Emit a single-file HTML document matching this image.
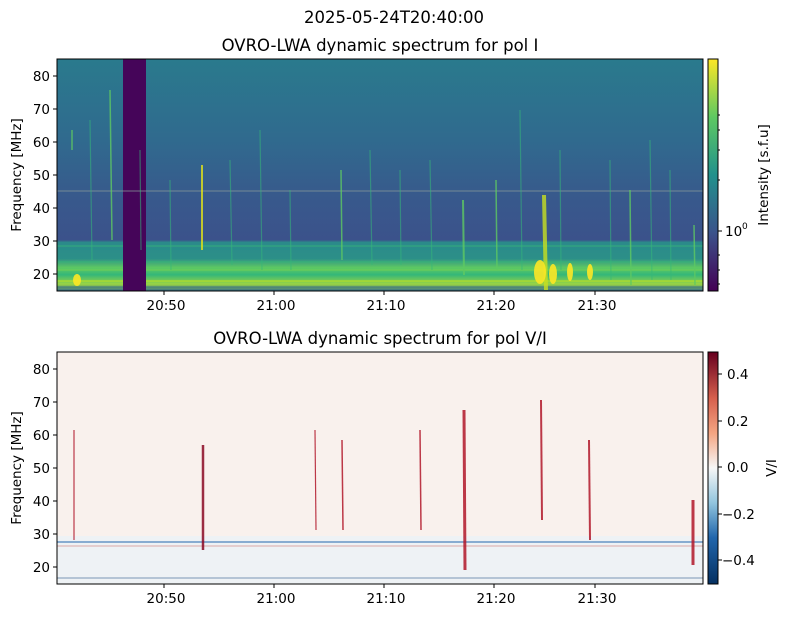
<!DOCTYPE html>
<html><head><meta charset="utf-8"><style>
body{margin:0;background:#fff;font-family:"Liberation Sans","DejaVu Sans",sans-serif}
svg text{font-family:"DejaVu Sans","Liberation Sans",sans-serif;fill:#000}
</style></head><body>
<svg width="789" height="617" viewBox="0 0 789 617" xmlns="http://www.w3.org/2000/svg">
<defs>
<linearGradient id="topbg" x1="0" y1="0" x2="0" y2="1">
<stop offset="0" stop-color="#2a7a8d"/>
<stop offset="0.35" stop-color="#306a8e"/>
<stop offset="0.6" stop-color="#38598c"/>
<stop offset="0.78" stop-color="#3b528b"/>
<stop offset="0.79" stop-color="#2b8a8a"/>
<stop offset="0.86" stop-color="#2c8f88"/>
<stop offset="0.9" stop-color="#5ec962"/>
<stop offset="0.93" stop-color="#35b779"/>
<stop offset="0.97" stop-color="#9ad543"/>
<stop offset="1" stop-color="#31688e"/>
</linearGradient>
<linearGradient id="vir" x1="0" y1="1" x2="0" y2="0">
<stop offset="0" stop-color="#440154"/><stop offset="0.25" stop-color="#3b528b"/>
<stop offset="0.5" stop-color="#21918c"/><stop offset="0.75" stop-color="#5ec962"/>
<stop offset="1" stop-color="#fde725"/></linearGradient>
<linearGradient id="rdbu" x1="0" y1="1" x2="0" y2="0">
<stop offset="0" stop-color="#053061"/><stop offset="0.2" stop-color="#2166ac"/>
<stop offset="0.35" stop-color="#92c5de"/><stop offset="0.5" stop-color="#f7f7f7"/>
<stop offset="0.65" stop-color="#f4a582"/><stop offset="0.8" stop-color="#d6604d"/>
<stop offset="1" stop-color="#67001f"/></linearGradient>
</defs>
<text x="394" y="23" font-size="16.5" text-anchor="middle">2025-05-24T20:40:00</text>
<text x="380" y="51" font-size="16.5" text-anchor="middle">OVRO-LWA dynamic spectrum for pol I</text>
<text x="380" y="344" font-size="16.5" text-anchor="middle">OVRO-LWA dynamic spectrum for pol V/I</text>
<!-- top panel -->
<rect x="57" y="59" width="646" height="232" fill="url(#topbg)"/>
<g stroke="#35b779" stroke-width="1" opacity="0.8">
<line x1="57" y1="246" x2="703" y2="246"/><line x1="57" y1="249" x2="703" y2="249" stroke="#21918c"/>
<line x1="57" y1="262" x2="703" y2="262"/><line x1="57" y1="270" x2="703" y2="270" stroke="#7ad151"/>
<line x1="57" y1="281" x2="703" y2="281" stroke="#b5de2b" stroke-width="1.5"/>
<line x1="57" y1="287" x2="703" y2="287" stroke="#31688e"/>
</g>
<rect x="123" y="59" width="23" height="232" fill="#450559"/>
<line x1="57" y1="191" x2="703" y2="191" stroke="#8a9a9a" stroke-width="0.7"/>
<g stroke="#35b779" stroke-width="1.2" opacity="0.55">
<line x1="90" y1="120" x2="92" y2="260"/><line x1="140" y1="150" x2="141" y2="250"/><line x1="170" y1="180" x2="171" y2="270"/>
<line x1="230" y1="160" x2="232" y2="265"/><line x1="260" y1="130" x2="262" y2="270"/><line x1="290" y1="190" x2="291" y2="270"/>
<line x1="370" y1="150" x2="372" y2="265"/><line x1="400" y1="170" x2="401" y2="265"/><line x1="430" y1="160" x2="432" y2="270"/>
<line x1="520" y1="110" x2="522" y2="270"/><line x1="560" y1="150" x2="561" y2="270"/><line x1="610" y1="160" x2="611" y2="280"/>
<line x1="650" y1="140" x2="652" y2="280"/><line x1="670" y1="170" x2="671" y2="280"/>
</g>
<g stroke="#5ec962" stroke-width="1.5" opacity="0.8">
<line x1="202" y1="165" x2="202" y2="250" stroke="#e3e418" stroke-width="2"/>
<line x1="544" y1="195" x2="546" y2="290" stroke="#c8e020" stroke-width="4"/>
<line x1="463" y1="200" x2="464" y2="275" stroke-width="2"/>
<line x1="496" y1="180" x2="497" y2="270"/>
<line x1="341" y1="170" x2="342" y2="260"/>
<line x1="110" y1="90" x2="112" y2="240"/>
<line x1="630" y1="190" x2="631" y2="285"/>
<line x1="694" y1="225" x2="695" y2="285"/>
<line x1="72" y1="130" x2="72" y2="150"/>
</g>
<g fill="#fde725" opacity="0.9">
<ellipse cx="77" cy="280" rx="4" ry="6"/>
<ellipse cx="540" cy="272" rx="6" ry="12"/>
<ellipse cx="553" cy="274" rx="4" ry="10"/>
<ellipse cx="570" cy="272" rx="3" ry="9"/>
<ellipse cx="590" cy="272" rx="3" ry="8"/>
</g>
<rect x="57" y="59" width="646" height="232" fill="none" stroke="#000" stroke-width="1"/>
<g stroke="#000">
<line x1="53" y1="274" x2="57" y2="274"/><line x1="53" y1="241" x2="57" y2="241"/><line x1="53" y1="208" x2="57" y2="208"/><line x1="53" y1="175" x2="57" y2="175"/><line x1="53" y1="142" x2="57" y2="142"/><line x1="53" y1="109" x2="57" y2="109"/><line x1="53" y1="76" x2="57" y2="76"/>
</g>
<g font-size="13.5" text-anchor="end">
<text x="50" y="279">20</text><text x="50" y="246">30</text><text x="50" y="213">40</text><text x="50" y="180">50</text><text x="50" y="147">60</text><text x="50" y="114">70</text><text x="50" y="81">80</text>
</g>
<text transform="translate(21,175) rotate(-90)" font-size="13.5" text-anchor="middle">Frequency [MHz]</text>
<g stroke="#000"><line x1="164" y1="291" x2="164" y2="295"/><line x1="274" y1="291" x2="274" y2="295"/><line x1="384" y1="291" x2="384" y2="295"/><line x1="494" y1="291" x2="494" y2="295"/><line x1="595" y1="291" x2="595" y2="295"/></g>
<g font-size="13.5" text-anchor="middle"><text x="166" y="310">20:50</text><text x="276" y="310">21:00</text><text x="386" y="310">21:10</text><text x="496" y="310">21:20</text><text x="597" y="310">21:30</text></g>
<rect x="708" y="59" width="10" height="232" fill="url(#vir)" stroke="#000" stroke-width="1"/>
<g stroke="#000"><line x1="718" y1="231" x2="722" y2="231"/><line x1="718" y1="270" x2="720" y2="270"/><line x1="718" y1="255" x2="720" y2="255"/><line x1="718" y1="284" x2="720" y2="284"/><line x1="718" y1="180" x2="720" y2="180"/><line x1="718" y1="150" x2="720" y2="150"/><line x1="718" y1="130" x2="720" y2="130"/><line x1="718" y1="115" x2="720" y2="115"/></g>
<text x="725" y="236" font-size="13.5">10</text><text x="742" y="229" font-size="9">0</text>
<text transform="translate(768,175) rotate(-90)" font-size="13.5" text-anchor="middle">Intensity [s.f.u]</text>
<!-- bottom panel -->
<rect x="57" y="352" width="646" height="232" fill="#f9f1ed"/>
<rect x="57" y="536" width="646" height="48" fill="#eef2f5"/>
<line x1="57" y1="542" x2="703" y2="542" stroke="#5e8fc2" stroke-width="2" opacity="0.7"/>
<line x1="57" y1="546" x2="703" y2="546" stroke="#c9605a" stroke-width="1" opacity="0.5"/>
<line x1="57" y1="578" x2="703" y2="578" stroke="#4a6f9a" stroke-width="1" opacity="0.7"/>
<g stroke="#b2182b" opacity="0.85">
<line x1="203" y1="445" x2="203" y2="550" stroke-width="2.5" stroke="#8b0a25"/>
<line x1="464" y1="410" x2="465" y2="570" stroke-width="3"/>
<line x1="541" y1="400" x2="542" y2="520" stroke-width="2"/>
<line x1="589" y1="440" x2="590" y2="540" stroke-width="2"/>
<line x1="342" y1="440" x2="343" y2="530" stroke-width="1.5"/>
<line x1="420" y1="430" x2="421" y2="530" stroke-width="1.5"/>
<line x1="315" y1="430" x2="316" y2="530" stroke-width="1.2"/>
<line x1="74" y1="430" x2="74" y2="540" stroke-width="1.2"/>
<line x1="693" y1="500" x2="693" y2="565" stroke-width="3"/>
</g>
<rect x="57" y="352" width="646" height="232" fill="none" stroke="#000" stroke-width="1"/>
<g stroke="#000">
<line x1="53" y1="567" x2="57" y2="567"/><line x1="53" y1="534" x2="57" y2="534"/><line x1="53" y1="501" x2="57" y2="501"/><line x1="53" y1="468" x2="57" y2="468"/><line x1="53" y1="435" x2="57" y2="435"/><line x1="53" y1="402" x2="57" y2="402"/><line x1="53" y1="369" x2="57" y2="369"/>
<line x1="164" y1="584" x2="164" y2="588"/><line x1="274" y1="584" x2="274" y2="588"/><line x1="384" y1="584" x2="384" y2="588"/><line x1="494" y1="584" x2="494" y2="588"/><line x1="595" y1="584" x2="595" y2="588"/>
</g>
<g font-size="13.5" text-anchor="end">
<text x="50" y="572">20</text><text x="50" y="539">30</text><text x="50" y="506">40</text><text x="50" y="473">50</text><text x="50" y="440">60</text><text x="50" y="407">70</text><text x="50" y="374">80</text>
</g>
<text transform="translate(21,468) rotate(-90)" font-size="13.5" text-anchor="middle">Frequency [MHz]</text>
<g font-size="13.5" text-anchor="middle"><text x="166" y="603">20:50</text><text x="276" y="603">21:00</text><text x="386" y="603">21:10</text><text x="496" y="603">21:20</text><text x="597" y="603">21:30</text></g>
<rect x="708" y="352" width="10" height="232" fill="url(#rdbu)" stroke="#000" stroke-width="1"/>
<g stroke="#000"><line x1="718" y1="374" x2="722" y2="374"/><line x1="718" y1="421" x2="722" y2="421"/><line x1="718" y1="467" x2="722" y2="467"/><line x1="718" y1="514" x2="722" y2="514"/><line x1="718" y1="560" x2="722" y2="560"/></g>
<g font-size="13.5"><text x="727" y="379">0.4</text><text x="727" y="426">0.2</text><text x="727" y="472">0.0</text><text x="722" y="519">−0.2</text><text x="722" y="565">−0.4</text></g>
<text transform="translate(776,468) rotate(-90)" font-size="13.5" text-anchor="middle">V/I</text>
</svg>
</body></html>
